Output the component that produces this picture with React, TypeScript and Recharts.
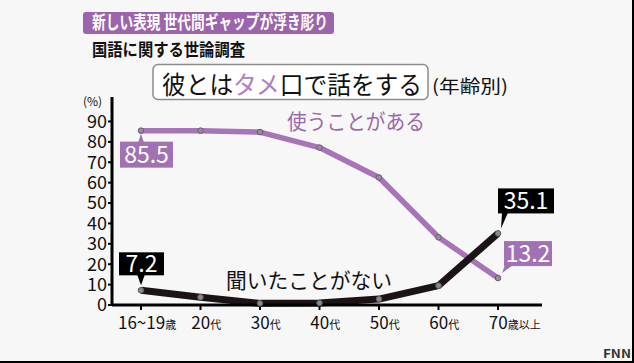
import React from 'react';
import { LineChart, Line, XAxis, YAxis, LabelList } from 'recharts';

const categories = ['16~19歳', '20代', '30代', '40代', '50代', '60代', '70歳以上'];
const usedValues = [85.5, 85.5, 84.8, 77.2, 62.5, 33.2, 13.2];
const neverHeardValues = [7.2, 3.8, 0.8, 1.0, 2.9, 9.5, 35.1];
const yTicks = [0, 10, 20, 30, 40, 50, 60, 70, 80, 90];

const headerTag = '新しい表現 世代間ギャップが浮き彫り';
const surveyName = '国語に関する世論調査';
const questionPre = '彼とは';
const questionMid = 'タメ';
const questionPost = '口で話をする';
const ageNote = '(年齢別)';
const unitLabel = '(%)';
const usedLabel = '使うことがある';
const neverLabel = '聞いたことがない';
const brand = 'FNN';

const PURPLE = '#a774b7';
const PURPLE_BOX = '#a271b3';
const BLACK = '#1b1315';
const FONT = '"Noto Sans CJK JP", "Noto Sans", sans-serif';

const data = categories.map((c, i) => ({ age: c, used: usedValues[i], never: neverHeardValues[i] }));

const XTick = (props: any) => {
  const { x, y, payload } = props;
  const m = String(payload.value).match(/^([\d~]+)(.*)$/);
  const num = m ? m[1] : String(payload.value);
  const suf = m ? m[2] : '';
  const numW = num.length * 9.2;
  return (
    <text x={x - numW / 2} y={y + 17} fontFamily={FONT} fill="#111" textAnchor="start">
      <tspan fontSize={17}>{num}</tspan>
      <tspan fontSize={11}>{suf}</tspan>
    </text>
  );
};

const numText = (cx: number, top: number, h: number, v: any) => (
  <text x={cx} y={top + h / 2 + 8} fill="#fff" fontSize={23} fontFamily={FONT} textAnchor="middle">
    {String(v)}
  </text>
);

const renderUsedLabel = (props: any) => {
  const { x, y, value, index } = props;
  if (index === 0) {
    const left = x - 21, top = y + 11, w = 53, h = 26;
    return (
      <g>
        <polygon points={`${x - 3},${top + 1} ${x + 3},${top + 1} ${x},${y + 3}`} fill={PURPLE_BOX} />
        <rect x={left} y={top} width={w} height={h} fill={PURPLE_BOX} />
        {numText(left + w / 2, top, h, value)}
      </g>
    );
  }
  if (index === categories.length - 1) {
    const left = x + 6, top = y - 37, w = 48, h = 25;
    return (
      <g>
        <polygon points={`${left + 1},${top + h - 1} ${left + 9},${top + h - 1} ${x + 4},${y - 5}`} fill={PURPLE_BOX} />
        <rect x={left} y={top} width={w} height={h} fill={PURPLE_BOX} />
        {numText(left + w / 2, top, h, value)}
      </g>
    );
  }
  return null;
};

const renderNeverLabel = (props: any) => {
  const { x, y, value, index } = props;
  if (index === 0) {
    const left = x - 22, top = y - 38, w = 45, h = 23;
    return (
      <g>
        <polygon points={`${x - 4},${top + h - 1} ${x + 4},${top + h - 1} ${x},${y - 5}`} fill="#000" />
        <rect x={left} y={top} width={w} height={h} fill="#000" />
        {numText(left + w / 2, top, h, value)}
      </g>
    );
  }
  if (index === categories.length - 1) {
    const left = x, top = y - 45, w = 56, h = 25;
    return (
      <g>
        <polygon points={`${left + 4},${top + h - 1} ${left + 10},${top + h - 1} ${x + 3},${y - 5}`} fill="#000" />
        <rect x={left} y={top} width={w} height={h} fill="#000" />
        {numText(left + w / 2, top, h, value)}
      </g>
    );
  }
  return null;
};

export default function App() {
  return (
    <div style={{ position: 'absolute', left: 0, top: 0, width: 634, height: 363, background: '#f7f7f7', overflow: 'hidden' }}>
      <LineChart
        width={634}
        height={363}
        data={data}
        margin={{ top: 97, right: 92, bottom: 28, left: 72 }}
      >
        <XAxis
          dataKey="age"
          padding={{ left: 29, right: 44 }}
          axisLine={{ stroke: '#000', strokeWidth: 3 }}
          tickLine={{ stroke: '#000', strokeWidth: 2 }}
          tickSize={5}
          tickMargin={2}
          height={30}
          tick={<XTick />}
          interval={0}
        />
        <YAxis
          domain={[0, 102]}
          ticks={yTicks}
          width={40}
          axisLine={{ stroke: '#000', strokeWidth: 3 }}
          tickLine={{ stroke: '#000', strokeWidth: 2 }}
          tickSize={4}
          tickMargin={1}
          tick={{ fill: '#111', fontSize: 18, fontFamily: FONT }}
          interval={0}
        />
        <Line
          dataKey="used"
          stroke={PURPLE}
          strokeWidth={5.5}
          strokeLinejoin="round"
          dot={{ r: 2.8, fill: '#9a8a9e', stroke: '#6e5a74', strokeWidth: 1 }}
          isAnimationActive={false}
        >
          <LabelList dataKey="used" content={renderUsedLabel} />
        </Line>
        <Line
          dataKey="never"
          stroke={BLACK}
          strokeWidth={7}
          strokeLinejoin="round"
          dot={{ r: 2.8, fill: '#8a8a8a', stroke: '#5a5a5a', strokeWidth: 1 }}
          isAnimationActive={false}
        >
          <LabelList dataKey="never" content={renderNeverLabel} />
        </Line>
      </LineChart>
      <svg width={634} height={363} style={{ position: 'absolute', left: 0, top: 0, pointerEvents: 'none' }}>
        <rect x={83} y={12} width={251} height={22} rx={3} fill="#9c64aa" />
        <text x={92} y={29} fontSize={18} fontWeight="bold" fill="#fff" fontFamily={FONT} textLength={236} lengthAdjust="spacingAndGlyphs">
          {headerTag}
        </text>
        <text x={92} y={56} fontSize={17} fontWeight="bold" fill="#111" fontFamily={FONT} textLength={153} lengthAdjust="spacingAndGlyphs">
          {surveyName}
        </text>
        <rect x={153} y={64.5} width={275} height={35} rx={5} fill="#fff" stroke="#8c8c8c" strokeWidth={1.5} />
        <text x={162} y={94} fontSize={25} fill="#111" fontFamily={FONT} textLength={260} lengthAdjust="spacingAndGlyphs">
          <tspan>{questionPre}</tspan>
          <tspan fill="#b27fc2">{questionMid}</tspan>
          <tspan>{questionPost}</tspan>
        </text>
        <text x={432} y={93} fontSize={18} fill="#111" fontFamily={FONT} textLength={76} lengthAdjust="spacingAndGlyphs">
          {ageNote}
        </text>
        <text x={83} y={106} fontSize={12} fill="#111" fontFamily={FONT}>
          {unitLabel}
        </text>
        <text x={287} y={129} fontSize={21} fill="#9b6aa9" fontFamily={FONT} textLength={138} lengthAdjust="spacingAndGlyphs">
          {usedLabel}
        </text>
        <text x={226} y={288} fontSize={21} fill="#111" fontFamily={FONT} textLength={166} lengthAdjust="spacingAndGlyphs">
          {neverLabel}
        </text>
        <text x={603} y={358} fontSize={11} fontWeight="bold" fill="#333" fontFamily={FONT} textLength={28} lengthAdjust="spacingAndGlyphs">
          {brand}
        </text>
        <rect x={632} y={0} width={2} height={363} fill="#000" />
        <rect x={0} y={361} width={634} height={2} fill="#000" />
      </svg>
    </div>
  );
}
